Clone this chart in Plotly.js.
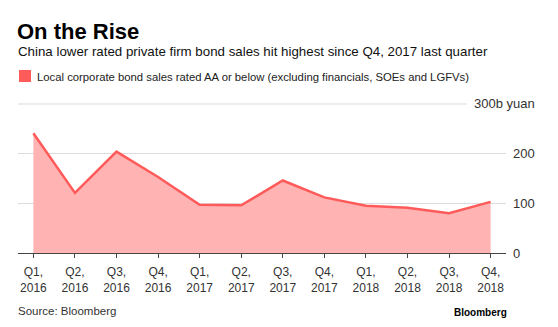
<!DOCTYPE html>
<html>
<head>
<meta charset="utf-8">
<script src="https://cdn.plot.ly/plotly-3.0.1.min.js"></script>
<style>html,body{margin:0;padding:0;background:#fff;}#chart{width:558px;height:327px;}</style>
</head>
<body>
<div id="chart"></div>
<script>
const quarters = ["Q1, 2016","Q2, 2016","Q3, 2016","Q4, 2016","Q1, 2017","Q2, 2017","Q3, 2017","Q4, 2017","Q1, 2018","Q2, 2018","Q3, 2018","Q4, 2018"];
const tickLabels = ["Q1,<br>2016","Q2,<br>2016","Q3,<br>2016","Q4,<br>2016","Q1,<br>2017","Q2,<br>2017","Q3,<br>2017","Q4,<br>2017","Q1,<br>2018","Q2,<br>2018","Q3,<br>2018","Q4,<br>2018"];
const bondSales = [241, 121, 204, 153, 97, 96, 146, 112, 95, 91, 80, 103];
const yTickVals = [0, 100, 200, 300];
const yTickText = ["0", "100", "200", ""];
const yTopLabel = "300b yuan";

const W = 558, H = 327;
const M = {l: 18, r: 52, t: 103, b: 74};
const pw = W - M.l - M.r, ph = H - M.t - M.b;
const px = x => (x - M.l) / pw;
const py = y => (H - M.b - y) / ph;

const xIdx = quarters.map((_, i) => i);
const font = "Liberation Sans, Arial, Helvetica, sans-serif";

const trace = {
  x: xIdx, y: bondSales, type: "scatter", mode: "lines",
  fill: "tozeroy", fillcolor: "#ffb3b3",
  line: {color: "#ff5a5a", width: 2.5},
  hoverinfo: "none", showlegend: false
};

const layout = {
  width: W, height: H,
  margin: M,
  paper_bgcolor: "#fff", plot_bgcolor: "#fff",
  font: {family: font, color: "#333"},
  showlegend: false,
  xaxis: {
    range: [-0.37, 11.37], tickvals: xIdx, ticktext: tickLabels,
    showgrid: false, zeroline: false,
    showline: true, linecolor: "#444", linewidth: 1,
    ticks: "outside", ticklen: 4, tickcolor: "#444", tickwidth: 1,
    ticklabelstandoff: 4,
    tickfont: {size: 12, color: "#333"}, fixedrange: true
  },
  yaxis: {
    range: [0, 302], side: "right", tickvals: yTickVals, ticktext: yTickText,
    showgrid: true, gridcolor: "#dcdcdc", gridwidth: 1,
    zeroline: false, showline: false, ticks: "",
    ticklabelstandoff: 6,
    tickfont: {size: 13, color: "#333"}, fixedrange: true
  },
  shapes: [
    {type: "line", xref: "paper", yref: "y", x0: 0, x1: px(467), y0: yTickVals[3], y1: yTickVals[3],
     line: {color: "#dcdcdc", width: 1}, layer: "below"},
    {type: "rect", xref: "paper", yref: "paper", x0: px(19), x1: px(31), y0: py(70), y1: py(82),
     fillcolor: "#ff5b5b", line: {width: 0}}
  ],
  annotations: [
    {xref: "paper", yref: "paper", x: px(15), y: py(17), xanchor: "left", yanchor: "top",
     text: "<b>On the Rise</b>", showarrow: false, font: {size: 22, color: "#000", family: font}},
    {xref: "paper", yref: "paper", x: px(16), y: py(42), xanchor: "left", yanchor: "top",
     text: "China lower rated private firm bond sales hit highest since Q4, 2017 last quarter",
     showarrow: false, font: {size: 13.3, color: "#111", family: font}},
    {xref: "paper", yref: "paper", x: px(35), y: py(68.5), xanchor: "left", yanchor: "top",
     text: "Local corporate bond sales rated AA or below (excluding financials, SOEs and LGFVs)",
     showarrow: false, font: {size: 11.3, color: "#222", family: font}},
    {xref: "paper", yref: "y", x: px(470), y: yTickVals[3], xanchor: "left", yanchor: "middle",
     text: yTopLabel, showarrow: false, bgcolor: "#fff", borderpad: 3,
     font: {size: 13, color: "#333", family: font}},
    {xref: "paper", yref: "paper", x: px(16), y: py(303), xanchor: "left", yanchor: "top",
     text: "Source: Bloomberg", showarrow: false, font: {size: 11.5, color: "#333", family: font}},
    {xref: "paper", yref: "paper", x: px(509), y: py(305), xanchor: "right", yanchor: "top",
     text: "<b>Bloomberg</b>", showarrow: false, font: {size: 10, color: "#000", family: font}}
  ]
};

Plotly.newPlot("chart", [trace], layout, {staticPlot: true, displayModeBar: false});
</script>
</body>
</html>
